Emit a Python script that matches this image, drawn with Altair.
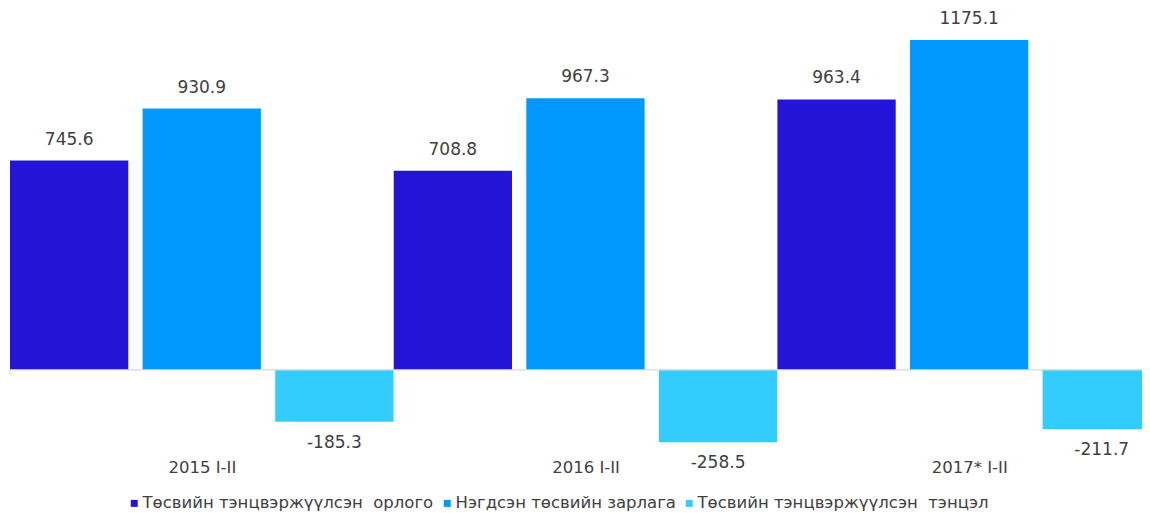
import altair as alt
import pandas as pd

categories = ["2015 I-II", "2016 I-II", "2017* I-II"]
series = ["Төсвийн тэнцвэржүүлсэн  орлого", "Нэгдсэн төсвийн зарлага", "Төсвийн тэнцвэржүүлсэн  тэнцэл"]
revenue = [745.6, 708.8, 963.4]
expenditure = [930.9, 967.3, 1175.1]
balance = [-185.3, -258.5, -211.7]
colors = ["#2414D8", "#0099FF", "#33CCFF"]

rows = []
for gi, c in enumerate(categories):
    for si, (s, vals) in enumerate(zip(series, [revenue, expenditure, balance])):
        rows.append({"cat": c, "gi": gi, "si": si, "series": s,
                     "value": vals[gi], "label": f"{vals[gi]:.1f}"})
df = pd.DataFrame(rows)

FONT = "DejaVu Sans"
TXT = "#404040"
BAR_FRAC = 0.3083   # bar width as a fraction of a category group
STEP_FRAC = 0.3456  # bar + gap as a fraction of a category group
PLOT_W = 1132
GROUP_PX = 383.7

cat_list = "[" + ",".join(f"'{c}'" for c in categories) + "]"

base = alt.Chart(df).transform_calculate(
    x0=f"datum.gi + datum.si * {STEP_FRAC}",
    x1=f"datum.gi + datum.si * {STEP_FRAC} + {BAR_FRAC}",
    xc=f"datum.gi + datum.si * {STEP_FRAC} + {BAR_FRAC / 2}",
)

x_scale = alt.Scale(domain=[0, PLOT_W / GROUP_PX], nice=False, zero=False)
x_axis = alt.Axis(values=[0.5, 1.5, 2.5], labelExpr=f"{cat_list}[floor(datum.value)]",
                  domain=False, ticks=False, grid=False, labelFontSize=16.5, labelPadding=5,
                  labelColor=TXT, labelFont=FONT, labelAngle=0, labelFlush=False,
                  labelOverlap=False)
y_scale = alt.Scale(domain=[-300, 1200], nice=False, zero=False)

bars = base.mark_bar(clip=True).encode(
    x=alt.X("x0:Q", scale=x_scale, axis=x_axis, title=None),
    x2="x1:Q",
    y=alt.Y("value:Q", scale=y_scale, axis=None),
    y2=alt.datum(0),
    color=alt.Color("series:N", sort=series,
                    scale=alt.Scale(domain=series, range=colors),
                    legend=alt.Legend(title=None, orient="none", direction="horizontal",
                                      legendX=116, legendY=462, symbolType="square",
                                      symbolSize=49, symbolStrokeWidth=0, labelFontSize=16.5,
                                      labelFont=FONT, labelColor=TXT, labelLimit=500,
                                      columnPadding=5, symbolOffset=0, labelOffset=0,
                                      labelExpr="replace(datum.label, '  ', ' \u00a0')")),
)

pos_text = base.transform_filter("datum.value >= 0").mark_text(
    baseline="middle", dy=-21, fontSize=17, font=FONT, color=TXT
).encode(x=alt.X("xc:Q", scale=x_scale), y=alt.Y("value:Q", scale=y_scale), text="label:N")

neg_text = base.transform_filter("datum.value < 0").mark_text(
    baseline="middle", dy=21, fontSize=17, font=FONT, color=TXT
).encode(x=alt.X("xc:Q", scale=x_scale), y=alt.Y("value:Q", scale=y_scale), text="label:N")

zero_df = pd.DataFrame({"z": [0], "t": [-20]})
zero_rule = alt.Chart(zero_df).mark_rule(color="#D9D9D9", strokeWidth=1.2).encode(
    y=alt.Y("z:Q", scale=y_scale)
)
tick_rule = alt.Chart(zero_df).mark_rule(color="#D9D9D9", strokeWidth=1.2).encode(
    x=alt.value(0), y=alt.Y("z:Q", scale=y_scale), y2="t:Q"
)

chart = alt.layer(bars, zero_rule, tick_rule, pos_text, neg_text).properties(
    width=PLOT_W, height=421,
    autosize=alt.AutoSizeParams(type="none"),
    padding={"left": 2, "top": 25, "right": 0, "bottom": 59},
    background="white",
).configure_view(stroke=None)

chart.save("out.html", embed_options={"renderer": "svg", "actions": False})
